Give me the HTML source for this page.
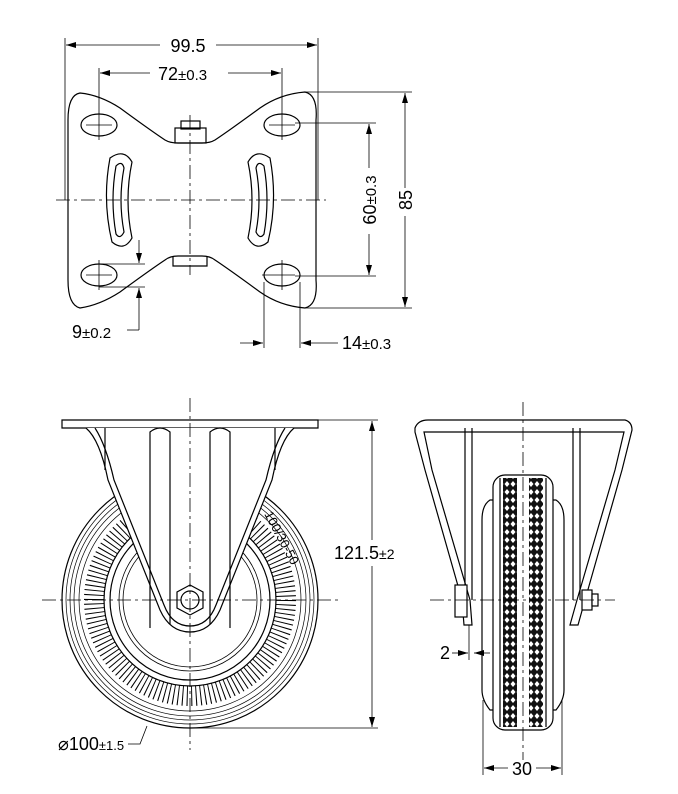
<!DOCTYPE html>
<html><head><meta charset="utf-8"><style>
html,body{margin:0;padding:0;background:#fff;}
svg{display:block;}
text{font-family:"Liberation Sans",sans-serif;fill:#000;}
</style></head><body>
<svg width="678" height="794" viewBox="0 0 678 794" xmlns="http://www.w3.org/2000/svg">
<defs>
<marker id="a" viewBox="0 0 10 6" refX="10" refY="3" markerWidth="10" markerHeight="6" orient="auto-start-reverse" markerUnits="userSpaceOnUse"><path d="M0,0L10,3L0,6z" fill="#000"/></marker>
<pattern id="dia" width="6" height="8" patternUnits="userSpaceOnUse"><rect width="6" height="8" fill="#111"/><path d="M3,1L5.5,4L3,7L0.5,4z" fill="#fff"/></pattern>
</defs>
<g fill="none" stroke="#000" stroke-width="1.2">
<!-- TOP VIEW -->
<path d="M80,93 Q100,95 120,108 Q150,130 165,140 Q170,143 178,143 L202,143 Q210,143 215,140 Q230,130 260,108 Q280,94 305,92 Q318,95 316,120 L316,280 Q318,305 305,308 Q280,306 260,292 Q230,270 215,260 Q210,256 202,256 L178,256 Q170,256 165,260 Q150,270 120,292 Q100,305 80,308 Q68,305 68,280 L68,120 Q68,95 80,93z"/>
<ellipse cx="99" cy="125" rx="18" ry="11"/><ellipse cx="282" cy="125" rx="18" ry="11"/>
<ellipse cx="99" cy="275" rx="18" ry="11"/><ellipse cx="282" cy="275" rx="18" ry="11"/>
<path d="M110,158 Q124,148 132,162 Q124,200 132,238 Q124,252 112,242 Q102,200 110,158z"/>
<path d="M116,166 Q122,160 124,168 Q118,200 124,232 Q120,240 116,234 Q110,200 116,166z"/>
<path d="M270,158 Q256,148 248,162 Q256,200 248,238 Q256,252 268,242 Q278,200 270,158z"/>
<path d="M264,166 Q258,160 256,168 Q262,200 256,232 Q260,240 264,234 Q270,200 264,166z"/>
<rect x="175" y="128" width="31" height="15"/><rect x="181" y="121" width="19" height="8"/>
<path d="M173,256 L173,266 L207,266 L207,256"/>
<g stroke-width="0.8" stroke-dasharray="14,4,3,4">
<line x1="56" y1="200" x2="326" y2="200"/><line x1="190" y1="115" x2="190" y2="275"/>
</g>
<g stroke-width="0.8">
<line x1="86" y1="125" x2="112" y2="125"/><line x1="99" y1="110" x2="99" y2="140"/>
<line x1="269" y1="125" x2="295" y2="125"/><line x1="282" y1="110" x2="282" y2="140"/>
<line x1="86" y1="275" x2="112" y2="275"/><line x1="99" y1="260" x2="99" y2="290"/>
<line x1="262" y1="275" x2="295" y2="275"/><line x1="282" y1="260" x2="282" y2="290"/>
<line x1="65" y1="38" x2="65" y2="200"/><line x1="318" y1="38" x2="318" y2="200"/>
<line x1="66" y1="45" x2="160" y2="45" marker-start="url(#a)"/><line x1="216" y1="45" x2="317" y2="45" marker-end="url(#a)"/>
<line x1="99" y1="68" x2="99" y2="110"/><line x1="282" y1="68" x2="282" y2="110"/>
<line x1="100" y1="73" x2="150" y2="73" marker-start="url(#a)"/><line x1="228" y1="73" x2="281" y2="73" marker-end="url(#a)"/>
<line x1="305" y1="92" x2="412" y2="92"/><line x1="305" y1="308" x2="412" y2="308"/>
<line x1="405" y1="93" x2="405" y2="188" marker-start="url(#a)"/><line x1="405" y1="216" x2="405" y2="307" marker-end="url(#a)"/>
<line x1="295" y1="123" x2="376" y2="123"/><line x1="295" y1="276" x2="376" y2="276"/>
<line x1="369" y1="124" x2="369" y2="168" marker-start="url(#a)"/><line x1="369" y1="234" x2="369" y2="275" marker-end="url(#a)"/>
<line x1="99" y1="264" x2="145" y2="264"/><line x1="99" y1="287" x2="145" y2="287"/>
<line x1="139" y1="240" x2="139" y2="263" marker-end="url(#a)"/><line x1="139" y1="330" x2="139" y2="288" marker-end="url(#a)"/>
<line x1="139" y1="330" x2="127" y2="330"/>
<line x1="264" y1="282" x2="264" y2="348"/><line x1="300" y1="282" x2="300" y2="348"/>
<line x1="240" y1="343" x2="263" y2="343" marker-end="url(#a)"/><line x1="338" y1="343" x2="301" y2="343" marker-end="url(#a)"/>
</g>
<!-- FRONT VIEW -->
<circle cx="190" cy="600" r="128"/>
<circle cx="190" cy="600" r="124" stroke-width="0.7"/>
<circle cx="190" cy="600" r="120" stroke-width="0.7"/>
<circle cx="190" cy="600" r="116" stroke-width="0.7"/>
<circle cx="190" cy="600" r="111" stroke-width="0.7"/>
<circle cx="190" cy="600" r="96" stroke-width="20" stroke-dasharray="1,3.5"/>
<circle cx="190" cy="600" r="86"/>
<circle cx="190" cy="600" r="80"/>
<circle cx="190" cy="600" r="71" stroke-width="0.8"/>
<circle cx="190" cy="600" r="67" stroke-width="0.8"/>
<path d="M62,420 L318,420 L318,428 L62,428z" fill="#fff"/>
<path d="M86,428 Q100,440 108,480 L160,610 Q170,632 190,632 Q210,632 220,610 L272,480 Q280,440 294,428" fill="#fff"/>
<path d="M95,428 Q106,445 114,480 L164,605 Q172,626 190,626 Q208,626 216,605 L266,480 Q274,445 285,428"/>
<path d="M105,428 L105,470 M275,428 L275,470"/>
<path d="M150,628 L150,432 Q160,424 170,432 L170,624 M210,624 L210,432 Q220,424 230,432 L230,628"/>
<polygon points="190,585 203,592 203,608 190,615 177,608 177,592" fill="#fff"/>
<circle cx="190" cy="600" r="9"/>
<g stroke-width="0.8" stroke-dasharray="14,4,3,4">
<line x1="42" y1="600" x2="338" y2="600"/><line x1="190" y1="398" x2="190" y2="750"/>
</g>
<g stroke-width="0.8">
<line x1="318" y1="420" x2="378" y2="420"/><line x1="190" y1="728" x2="378" y2="728"/>
<line x1="372" y1="421" x2="372" y2="540" marker-start="url(#a)"/><line x1="372" y1="566" x2="372" y2="727" marker-end="url(#a)"/>
<polyline points="128,744 140,744 147,726"/>
</g>
<!-- SIDE VIEW -->
<path d="M415,428 Q418,420 428,420 L625,420 Q632,422 632,430 L622,470 L585,600 L578,625 L570,625 L577,600 L615,470 L624,432 L424,432 L432,470 L470,600 L472,625 L464,625 L462,600 L425,470 L415,432z" fill="#fff"/>
<line x1="465" y1="428" x2="465" y2="600"/><line x1="472" y1="428" x2="472" y2="600"/>
<line x1="573" y1="428" x2="573" y2="600"/><line x1="580" y1="428" x2="580" y2="600"/>
<path d="M482,520 L482,690 Q482,700 490,710 L556,710 Q564,700 564,690 L564,520 Q564,505 556,500 L490,500 Q482,505 482,520z"/>
<rect x="493" y="475" width="60" height="255" rx="12" fill="#fff"/>
<rect x="503" y="478" width="14" height="249" fill="url(#dia)" stroke="none"/>
<rect x="529" y="478" width="14" height="249" fill="url(#dia)" stroke="none"/>
<line x1="500" y1="478" x2="500" y2="727"/><line x1="546" y1="478" x2="546" y2="727"/>
<rect x="455" y="585" width="12" height="32" fill="#fff"/>
<rect x="582" y="590" width="10" height="20" fill="#fff"/>
<rect x="592" y="594" width="6" height="12" fill="#fff"/>
<g stroke-width="0.8" stroke-dasharray="14,4,3,4">
<line x1="430" y1="600" x2="615" y2="600"/><line x1="523" y1="402" x2="523" y2="760"/>
</g>
<g stroke-width="0.8">
<line x1="483" y1="700" x2="483" y2="775"/><line x1="562" y1="700" x2="562" y2="775"/>
<line x1="484" y1="768" x2="508" y2="768" marker-start="url(#a)"/><line x1="536" y1="768" x2="561" y2="768" marker-end="url(#a)"/>
<line x1="469" y1="625" x2="469" y2="660"/>
<line x1="452" y1="653" x2="468" y2="653" marker-end="url(#a)"/>
<line x1="490" y1="653" x2="474" y2="653" marker-end="url(#a)"/>
</g>
</g>
<g font-size="18">
<rect x="162" y="35" width="52" height="20" fill="#fff"/>
<text x="188" y="52" text-anchor="middle">99.5</text>
<text x="158" y="80">72<tspan font-size="15">±0.3</tspan></text>
<text x="72" y="338">9<tspan font-size="15">±0.2</tspan></text>
<text x="342" y="349">14<tspan font-size="15">±0.3</tspan></text>
<text transform="translate(412,200) rotate(-90)" text-anchor="middle">85</text>
<text transform="translate(376,200) rotate(-90)" text-anchor="middle">60<tspan font-size="15">±0.3</tspan></text>
<text x="334" y="559">121.5<tspan font-size="14">±2</tspan></text>
<text x="58" y="750">⌀100<tspan font-size="13">±1.5</tspan></text>
<text x="512" y="775">30</text>
<text x="440" y="659">2</text>
<text transform="translate(264,514) rotate(62)" font-size="13">100/30-50</text>
</g>
</svg>
</body></html>
